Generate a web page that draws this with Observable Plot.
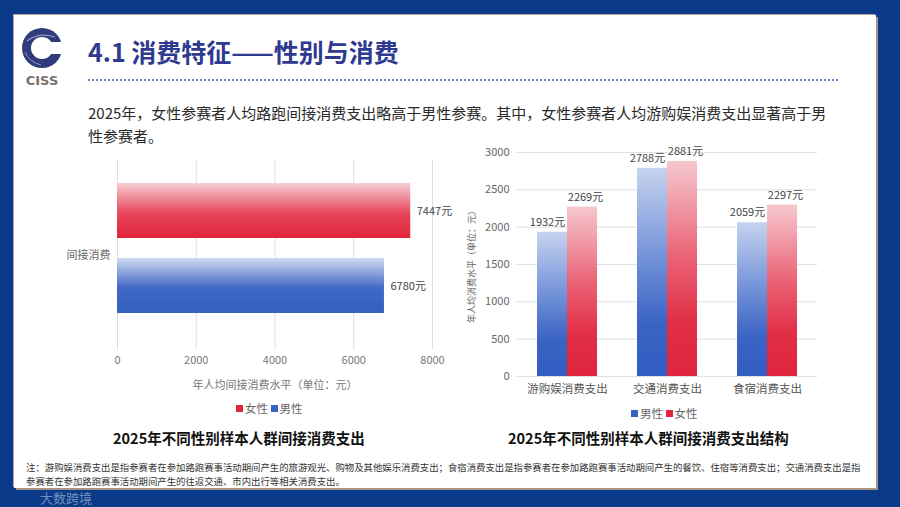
<!DOCTYPE html>
<html><head><meta charset="utf-8">
<script src="https://cdn.jsdelivr.net/npm/d3@7"></script>
<script src="https://cdn.jsdelivr.net/npm/@observablehq/plot@0.6"></script>
<style>
html,body{margin:0;padding:0;}
body{width:900px;height:507px;overflow:hidden;font-family:"Noto Sans CJK SC","Noto Sans",sans-serif;}
#root{position:relative;width:900px;height:507px;background:#0b3a8a;overflow:hidden;}
#panel{position:absolute;left:14px;top:15px;width:862px;height:473px;background:#fff;box-shadow:2px 2px 0 #a89484, -1px -1px 0 #b8a898;}
.abs{position:absolute;white-space:nowrap;}
#title{left:88px;top:35px;font-size:25px;font-weight:bold;color:#2e3a8f;line-height:32px;}
#dots{left:88px;top:79px;width:750px;height:0;border-top:2px dotted #6f86c8;}
#sub{left:88px;top:101px;font-size:15px;color:#2a2a2a;line-height:23px;}
.ctitle{font-size:14.5px;font-weight:bold;color:#111;}
.legend{font-size:11.5px;color:#666;}
.sw{display:inline-block;width:7px;height:7px;margin-right:2px;vertical-align:1px;}
#note{left:26px;top:461px;font-size:9.4px;color:#333;line-height:13.5px;}
#wm{left:40px;top:488px;font-size:13px;color:rgba(255,255,255,0.45);}
g[aria-label="y-axis label"] text{font-size:9px;}
</style></head>
<body><div id="root"><div id="panel"></div>
<svg class="abs" style="left:19px;top:26px" width="48" height="64" viewBox="0 0 48 64">
  <circle cx="23" cy="22" r="20" fill="#2f3b7a"/>
  <circle cx="23" cy="22" r="11" fill="#fff"/>
  <rect x="28" y="16" width="20" height="12" fill="#fff"/>
  <path d="M8 15 Q20 6 36 11" stroke="#8a97c8" stroke-width="1.2" fill="none"/>
  <path d="M6 26 Q10 36 22 39" stroke="#8a97c8" stroke-width="1" fill="none"/>
  <text x="23" y="59" text-anchor="middle" font-family="DejaVu Sans" font-weight="bold" font-size="13" fill="#7d7068">CISS</text>
</svg>
<div id="title" class="abs">4.1 消费特征——性别与消费</div>
<div id="dots" class="abs"></div>
<div id="sub" class="abs">2025年，女性参赛者人均路跑间接消费支出略高于男性参赛。其中，女性参赛者人均游购娱消费支出显著高于男<br>性参赛者。</div>
<div id="left" class="abs" style="left:50px;top:160px"></div>
<div id="right" class="abs" style="left:460px;top:140px"></div>
<div class="abs legend" style="left:236px;top:400px"><span class="sw" style="background:#e0263e"></span>女性 <span class="sw" style="background:#3a62c4"></span>男性</div>
<div class="abs legend" style="left:631px;top:405px"><span class="sw" style="background:#3a62c4"></span>男性 <span class="sw" style="background:#e0263e"></span>女性</div>
<div class="abs ctitle" style="left:113px;top:427px">2025年不同性别样本人群间接消费支出</div>
<div class="abs ctitle" style="left:508px;top:427px">2025年不同性别样本人群间接消费支出结构</div>
<div id="note" class="abs">注：游购娱消费支出是指参赛者在参加路跑赛事活动期间产生的旅游观光、购物及其他娱乐消费支出；食宿消费支出是指参赛者在参加路跑赛事活动期间产生的餐饮、住宿等消费支出；交通消费支出是指<br>参赛者在参加路跑赛事活动期间产生的往返交通、市内出行等相关消费支出。</div>
<div id="wm" class="abs">大数跨境</div>
</div>
<script>
// ---- data ----
const genders = ["女性", "男性"];
const leftValues = [7447, 6780];
const leftCategory = ["间接消费"];
const leftTicks = [0, 2000, 4000, 6000, 8000];

const rightCategories = ["游购娱消费支出", "交通消费支出", "食宿消费支出"];
const maleValues = [1932, 2788, 2059];
const femaleValues = [2269, 2881, 2297];
const rightTicks = [0, 500, 1000, 1500, 2000, 2500, 3000];

const leftData = genders.map((g, i) => ({gender: g, value: leftValues[i]}));
const maleData = rightCategories.map((c, i) => ({cat: c, value: maleValues[i]}));
const femaleData = rightCategories.map((c, i) => ({cat: c, value: femaleValues[i]}));

const font = '"Noto Sans CJK SC","Noto Sans",sans-serif';

function addDefs(svg) {
  const defs = d3.select(svg).insert("defs", ":first-child");
  return (id, stops) => {
    const g = defs.append("linearGradient").attr("id", id).attr("x1", 0).attr("y1", 0).attr("x2", 0).attr("y2", 1);
    stops.forEach(([o, c]) => g.append("stop").attr("offset", o).attr("stop-color", c));
  };
}

// ---- left chart ----
const left = Plot.plot({
  width: 410, height: 235,
  marginLeft: 67, marginRight: 28, marginTop: 0, marginBottom: 45,
  style: {fontFamily: font, fontSize: "11px", color: "#777", background: "transparent", overflow: "visible"},
  x: {domain: [0, 8000]},
  y: {domain: genders, paddingInner: 0.267, paddingOuter: 0.4, align: 0.38, axis: null},
  marks: [
    Plot.gridX(leftTicks, {stroke: "#dedede", strokeOpacity: 1}),
    Plot.barX(leftData.filter(d => d.gender === "女性"), {x: "value", y: "gender", fill: "url(#gFh)"}),
    Plot.barX(leftData.filter(d => d.gender === "男性"), {x: "value", y: "gender", fill: "url(#gMh)"}),
    Plot.text(leftData, {x: "value", y: "gender", text: d => d.value + "元", dx: 6, textAnchor: "start", fill: "#444", fontSize: 11}),
    Plot.text(leftCategory, {frameAnchor: "left", text: d => d, dx: -7, textAnchor: "end", fill: "#666", fontSize: 11}),
    Plot.axisX(leftTicks, {tickSize: 0, tickPadding: 6, tickFormat: d => String(d), label: "年人均间接消费水平（单位：元）", labelAnchor: "center", labelArrow: "none", labelOffset: 38, fill: "#777"})
  ]
});
const mkL = addDefs(left);
mkL("gFh", [[0, "#f7cdd3"], [0.55, "#e7475b"], [1, "#e0233b"]]);
mkL("gMh", [[0, "#cfd9f1"], [0.55, "#4168c6"], [1, "#3460c0"]]);
document.getElementById("left").appendChild(left);

// ---- right chart ----
const right = Plot.plot({
  width: 380, height: 260,
  marginLeft: 57, marginRight: 23, marginTop: 12, marginBottom: 24,
  style: {fontFamily: font, fontSize: "11px", color: "#666", background: "transparent", overflow: "visible"},
  x: {domain: rightCategories, paddingInner: 0.4, paddingOuter: 0.2},
  y: {domain: [0, 3000]},
  marks: [
    Plot.gridY(rightTicks, {stroke: "#e0e0e0", strokeOpacity: 1}),
    Plot.barY(maleData, {x: "cat", y: "value", insetRight: 30, fill: "url(#gMv)"}),
    Plot.barY(femaleData, {x: "cat", y: "value", insetLeft: 30, fill: "url(#gFv)"}),
    Plot.text(maleData, {x: "cat", y: "value", text: d => d.value + "元", dx: -20, dy: -10, fill: "#444", fontSize: 11}),
    Plot.text(femaleData, {x: "cat", y: "value", text: d => d.value + "元", dx: 18, dy: -10, fill: "#444", fontSize: 11}),
    Plot.axisX({tickSize: 0, tickPadding: 8, fontSize: 11.5, fill: "#555", label: null}),
    Plot.axisY(rightTicks, {tickSize: 0, tickPadding: 8, tickFormat: d => String(d), label: "年人均消费水平（单位：元）", labelAnchor: "center", labelArrow: "none", labelOffset: 49, fill: "#666"})
  ]
});
const mkR = addDefs(right);
mkR("gMv", [[0, "#c6d3ef"], [0.45, "#6f8fd7"], [0.75, "#3a63c4"], [1, "#325dc1"]]);
mkR("gFv", [[0, "#f6c8cf"], [0.45, "#ea6275"], [0.75, "#e12f46"], [1, "#df253d"]]);
document.getElementById("right").appendChild(right);
</script>
</body></html>
